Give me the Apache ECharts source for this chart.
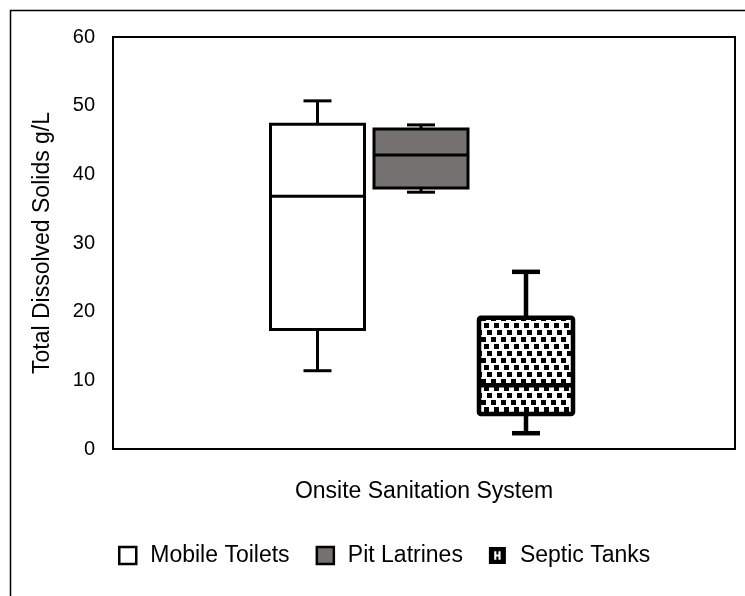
<!DOCTYPE html>
<html>
<head>
<meta charset="utf-8">
<script src="https://cdn.jsdelivr.net/npm/echarts@6/dist/echarts.min.js"></script>
<style>
  html, body { margin: 0; padding: 0; background: #fff; }
  #chart { width: 745px; height: 596px; }
</style>
</head>
<body>
<div id="chart"></div>
<script>
// data: [min, Q1, median, Q3, max] in g/L
var categories = ['Onsite Sanitation System']
var seriesNames = ['Mobile Toilets', 'Pit Latrines', 'Septic Tanks']
var mobileToilets = [11.4, 17.4, 36.8, 47.3, 50.7]
var pitLatrines = [37.4, 38.0, 42.8, 46.6, 47.2]
var septicTanks = [2.3, 5.1, 9.3, 19.1, 25.8]
var yTicks = [0, 10, 20, 30, 40, 50, 60]

// dotted fill for septic tanks
function makePattern () {
  var c = document.createElement('canvas')
  c.width = 10
  c.height = 21
  var ctx = c.getContext('2d')
  ctx.fillStyle = '#fff'
  ctx.fillRect(0, 0, 10, 21)
  ctx.fillStyle = '#000'
  ctx.fillRect(1, 1, 5, 5)
  ctx.fillRect(4, 8, 5, 5)
  ctx.fillRect(7, 15, 5, 5)
  ctx.fillRect(-3, 15, 5, 5)
  return c
}

var BOX_W = 94
var CAP_W = 28

function boxRenderer (offset, lw, fill) {
  return function (params, api) {
    var cx = api.coord([api.value(0), 0])[0] + offset
    var y = [1, 2, 3, 4, 5].map(function (i) {
      return api.coord([api.value(0), api.value(i)])[1]
    })
    var line = { stroke: '#000', lineWidth: lw }
    return {
      type: 'group',
      children: [
        { type: 'line', shape: { x1: cx, y1: y[4], x2: cx, y2: y[3] }, style: line },
        { type: 'line', shape: { x1: cx, y1: y[0], x2: cx, y2: y[1] }, style: line },
        { type: 'line', shape: { x1: cx - CAP_W / 2, y1: y[4], x2: cx + CAP_W / 2, y2: y[4] }, style: line },
        { type: 'line', shape: { x1: cx - CAP_W / 2, y1: y[0], x2: cx + CAP_W / 2, y2: y[0] }, style: line },
        {
          type: 'rect',
          shape: { x: cx - BOX_W / 2, y: y[3], width: BOX_W, height: y[1] - y[3], r: lw > 3 ? 2 : 0 },
          style: { fill: fill, stroke: '#000', lineWidth: lw }
        },
        { type: 'line', shape: { x1: cx - BOX_W / 2, y1: y[2], x2: cx + BOX_W / 2, y2: y[2] }, style: line }
      ]
    }
  }
}

var pattern = { image: makePattern(), repeat: 'repeat' }

var chart = echarts.init(document.getElementById('chart'))
var option = {
  animation: false,
  textStyle: { fontFamily: 'Liberation Sans, Arial, sans-serif', color: '#000' },
  graphic: [
    // outer frame, runs off the right and bottom edge
    {
      type: 'rect',
      shape: { x: 10.5, y: 10.5, width: 800, height: 700 },
      style: { fill: 'none', stroke: '#000', lineWidth: 1.5 },
      silent: true
    }
  ],
  grid: {
    left: 113,
    top: 37,
    width: 622,
    height: 412,
    show: true,
    borderColor: '#000',
    borderWidth: 2,
    backgroundColor: 'transparent'
  },
  legend: {
    left: 113,
    top: 539,
    itemWidth: 17,
    itemHeight: 17,
    itemGap: 26,
    textStyle: { fontSize: 23, color: '#000', padding: [0, 0, 0, 9] },
    data: [
      { name: seriesNames[0], icon: 'rect', itemStyle: { color: '#fff', borderColor: '#000', borderWidth: 2.5 } },
      { name: seriesNames[1], icon: 'rect', itemStyle: { color: '#767171', borderColor: '#000', borderWidth: 2.5 } },
      {
        name: seriesNames[2],
        // black square with a white H-shaped hole
        icon: 'path://M0,0H16V16H0Z M5,4V12H7V9H9V12H11V4H9V7H7V4Z',
        itemStyle: { color: '#000', borderWidth: 0 }
      }
    ]
  },
  xAxis: {
    type: 'category',
    data: categories,
    name: 'Onsite Sanitation System',
    nameLocation: 'middle',
    nameGap: 31,
    nameTextStyle: { fontSize: 23, color: '#000' },
    axisLine: { show: false },
    axisTick: { show: false },
    axisLabel: { show: false }
  },
  yAxis: {
    type: 'value',
    min: 0,
    max: 60,
    interval: 10,
    name: 'Total Dissolved Solids g/L',
    nameLocation: 'middle',
    nameGap: 59,
    nameTextStyle: { fontSize: 23, color: '#000' },
    axisLine: { show: false },
    axisTick: { show: false },
    splitLine: { show: false },
    axisLabel: {
      fontSize: 20,
      color: '#000',
      margin: 18,
      formatter: function (v) { return yTicks.indexOf(v) >= 0 ? String(v) : '' }
    }
  },
  series: [
    {
      name: seriesNames[0],
      type: 'custom',
      itemStyle: { color: '#fff' },
      renderItem: boxRenderer(-106.5, 3, '#fff'),
      data: [[0].concat(mobileToilets)]
    },
    {
      name: seriesNames[1],
      type: 'custom',
      itemStyle: { color: '#767171' },
      renderItem: boxRenderer(-3, 3, '#767171'),
      data: [[0].concat(pitLatrines)]
    },
    {
      name: seriesNames[2],
      type: 'custom',
      itemStyle: { color: '#000' },
      renderItem: boxRenderer(102, 4.5, pattern),
      data: [[0].concat(septicTanks)]
    }
  ]
}
chart.setOption(option)
</script>
</body>
</html>
